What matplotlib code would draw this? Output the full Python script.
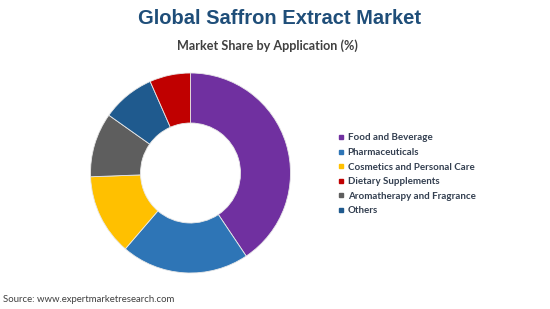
import matplotlib
matplotlib.use("Agg")
import matplotlib.pyplot as plt
from matplotlib.lines import Line2D

# Data (drawing order, clockwise from top)
categories = ["Food and Beverage", "Pharmaceuticals", "Cosmetics and Personal Care",
              "Aromatherapy and Fragrance", "Others", "Dietary Supplements"]
shares = [40.6, 20.7, 13.1, 10.4, 8.6, 6.6]
colors = ["#7030A0", "#2E75B6", "#FFC000", "#5E5E5E", "#1F5A8E", "#C00000"]
legend_order = ["Food and Beverage", "Pharmaceuticals", "Cosmetics and Personal Care",
                "Dietary Supplements", "Aromatherapy and Fragrance", "Others"]

W, H = 550, 309
fig = plt.figure(figsize=(W / 100, H / 100), dpi=100)
fig.patch.set_facecolor("white")

cx, cy, r = 190.5, 173, 101
ax = fig.add_axes([(cx - r) / W, (H - cy - r) / H, 2 * r / W, 2 * r / H])
ax.pie(shares, colors=colors, startangle=90, counterclock=False, radius=1,
       wedgeprops=dict(width=0.5, edgecolor="#e8e8e8", linewidth=0.6))
ax.set_xlim(-1.01, 1.01)
ax.set_ylim(-1.01, 1.01)
ax.set_aspect("equal")
ax.axis("off")

fig.text(279 / W, 1 - 19 / H, "Global Saffron Extract Market", ha="center", va="center",
         fontsize=14.5, fontweight="bold", color="#1F4E79", family="Liberation Sans")
fig.text(267 / W, 1 - 46 / H, "Market Share by Application (%)", ha="center", va="center",
         fontsize=9.1, fontweight="bold", color="#404040", family="Lato")

cmap = dict(zip(categories, colors))
handles = [Line2D([], [], linestyle="none", marker="s", markersize=3.5,
                  markerfacecolor=cmap[c], markeredgecolor=cmap[c]) for c in legend_order]
leg = fig.legend(handles, legend_order, loc="upper left",
                 bbox_to_anchor=(338 / W, 1 - 133.5 / H), frameon=False,
                 prop=dict(family="Lato", weight="bold", size=7.0),
                 handlelength=0.6, handletextpad=0.4, labelspacing=0.57,
                 borderpad=0, borderaxespad=0)
for t in leg.get_texts():
    t.set_color("#333F50")

fig.text(3 / W, 1 - 300 / H, "Source: www.expertmarketresearch.com", ha="left", va="center",
         fontsize=6.9, color="#404040", family="Lato")

fig.savefig("out.png", dpi=100, facecolor="white")
